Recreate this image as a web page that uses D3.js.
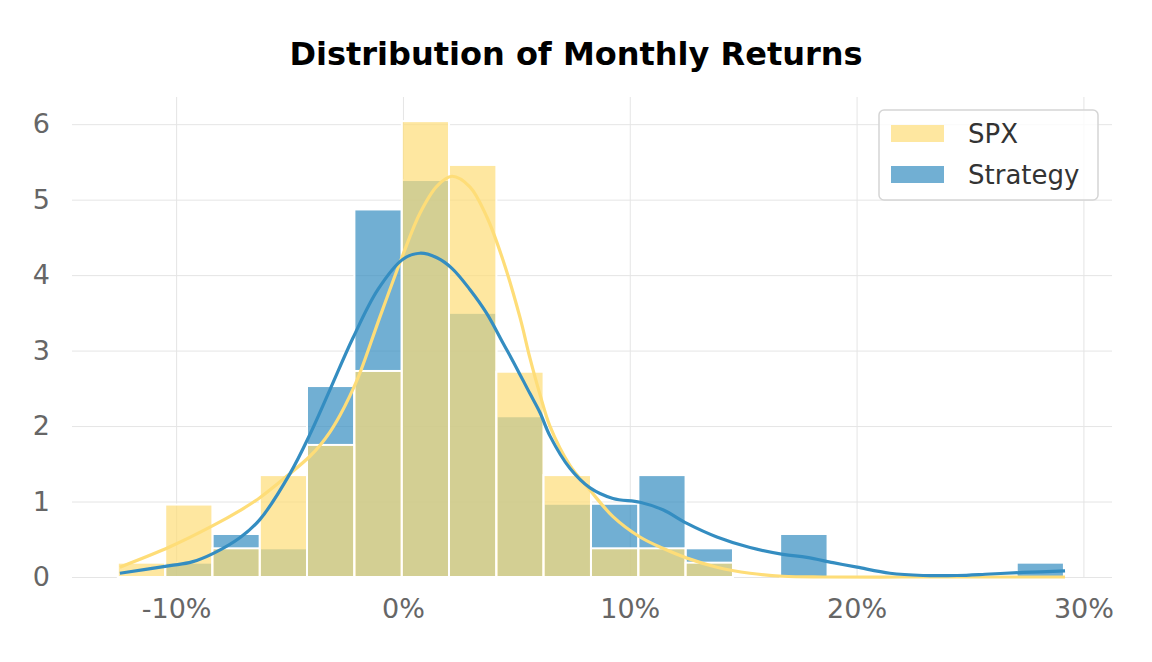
<!DOCTYPE html>
<html>
<head>
<meta charset="utf-8">
<script src="https://cdn.jsdelivr.net/npm/d3@7"></script>
<style>
  body { margin: 0; background: #fff; }
  svg { font-family: "DejaVu Sans", sans-serif; }
</style>
</head>
<body>
<div id="chart"></div>
<script>
// histogram bins (monthly return, %)
const binEdges = [-12.57, -10.48, -8.40, -6.31, -4.23, -2.14, -0.05, 2.03, 4.12, 6.20, 8.29,
  10.38, 12.46, 14.55, 16.63, 18.72, 20.80, 22.89, 24.97, 27.06, 29.14]
const spxDensity = [0.19, 0.96, 0.38, 1.35, 1.75, 2.73, 6.04, 5.46, 2.72, 1.35, 0.38, 0.38, 0.19, 0, 0, 0, 0, 0, 0, 0]
const stratDensity = [0, 0.19, 0.57, 0.38, 2.53, 4.87, 5.26, 3.50, 2.13, 0.97, 0.97, 1.35, 0.38, 0, 0.57, 0, 0, 0, 0, 0.19]

// kde curves
const spxKdeX = [-12.48, -10.27, -8.38, -7.19, -6.31, -4.98, -4.10, -3.67, -3.22, -2.78, -2.34, -1.90,
  -1.01, 0, 0.75, 1.50, 2.16, 2.95, 3.70, 4.41, 5.16, 5.60, 6.04, 6.48, 7.36, 8.25, 9.26, 10.45,
  11.46, 12.52, 13.84, 15.30, 16.75, 18.5, 22, 26, 29.19]
const spxKdeY = [0.13, 0.40, 0.68, 0.88, 1.05, 1.37, 1.60, 1.74, 1.92, 2.14, 2.40, 2.70,
  3.45, 4.27, 4.82, 5.18, 5.31, 5.17, 4.77, 4.20, 3.44, 2.90, 2.42, 2.00, 1.48, 1.15, 0.80, 0.53,
  0.38, 0.25, 0.13, 0.05, 0.01, 0, 0, 0, 0]
const stratKdeX = [-12.48, -10.27, -9.30, -8.38, -7.19, -6.31, -4.98, -4.10, -3.22, -2.20, -1.10, 0, 0.75,
  1.50, 2.16, 2.95, 3.70, 4.41, 4.85, 5.60, 6.04, 6.48, 7.36, 8.25, 9.26, 10.45, 11.46, 12.52,
  13.84, 15.30, 16.75, 17.81, 18.96, 20.02, 21.47, 22.93, 24.43, 25.88, 27.34, 29.19]
const stratKdeY = [0.05, 0.15, 0.20, 0.31, 0.52, 0.76, 1.37, 1.89, 2.48, 3.17, 3.81, 4.21, 4.29,
  4.23, 4.09, 3.81, 3.49, 3.10, 2.86, 2.43, 2.18, 1.87, 1.44, 1.18, 1.04, 0.99, 0.89, 0.71,
  0.53, 0.39, 0.30, 0.26, 0.19, 0.13, 0.05, 0.02, 0.02, 0.04, 0.06, 0.08]

const xTicks = [-10, 0, 10, 20, 30]
const yTicks = [0, 1, 2, 3, 4, 5, 6]
const series = ["SPX", "Strategy"]
const colors = { SPX: "#fedd78", Strategy: "#348dc1" }

const W = 1152, H = 662
const svg = d3.select("#chart").append("svg")
  .attr("width", W)
  .attr("height", H)

const x = d3.scaleLinear().domain([-14.59, 31.26]).range([72, 1112])
const y = d3.scaleLinear().domain([0, 6.36]).range([577, 97])

// grid
svg.append("g")
  .attr("transform", `translate(0, ${y(0)})`)
  .call(d3.axisBottom(x).tickValues(xTicks).tickSize(-(y(0) - y(6.36))).tickFormat(d => d + "%").tickPadding(22))
  .call(g => g.select(".domain").remove())
  .call(g => g.selectAll("line").attr("stroke", "#e5e5e5").attr("stroke-width", 1))
  .call(g => g.selectAll("text").attr("fill", "#666").attr("font-size", "27px").attr("font-family", "DejaVu Sans"))

svg.append("g")
  .attr("transform", `translate(${x.range()[0]}, 0)`)
  .call(d3.axisLeft(y).tickValues(yTicks).tickSize(-(x.range()[1] - x.range()[0])).tickFormat(d => d).tickPadding(22))
  .call(g => g.select(".domain").remove())
  .call(g => g.selectAll("line").attr("stroke", "#e5e5e5").attr("stroke-width", 1))
  .call(g => g.selectAll("text").attr("fill", "#666").attr("font-size", "27px").attr("font-family", "DejaVu Sans"))

function bars(values, name) {
  const data = values.map((v, i) => ({ x0: binEdges[i], x1: binEdges[i + 1], v })).filter(d => d.v > 0)
  svg.append("g").selectAll("rect")
    .data(data)
    .enter().append("rect")
    .attr("x", d => x(d.x0))
    .attr("width", d => x(d.x1) - x(d.x0))
    .attr("y", d => y(d.v))
    .attr("height", d => y(0) - y(d.v))
    .attr("fill", colors[name])
    .attr("fill-opacity", 0.7)
    .attr("stroke", "#fff")
    .attr("stroke-width", 2)
}
bars(stratDensity, "Strategy")
bars(spxDensity, "SPX")

const line = d3.line()
  .x(d => x(d[0]))
  .y(d => y(d[1]))
  .curve(d3.curveCatmullRom.alpha(0.5))

svg.append("path")
  .datum(spxKdeX.map((v, i) => [v, spxKdeY[i]]))
  .attr("d", line)
  .attr("fill", "none")
  .attr("stroke", colors.SPX)
  .attr("stroke-width", 3.2)

svg.append("path")
  .datum(stratKdeX.map((v, i) => [v, stratKdeY[i]]))
  .attr("d", line)
  .attr("fill", "none")
  .attr("stroke", colors.Strategy)
  .attr("stroke-width", 3.2)

// title
svg.append("text")
  .attr("x", 576)
  .attr("y", 65)
  .attr("text-anchor", "middle")
  .attr("font-size", "32px")
  .attr("font-weight", "bold")
  .attr("fill", "#000")
  .text("Distribution of Monthly Returns")

// legend
const lg = svg.append("g").attr("transform", "translate(879, 110)")
lg.append("rect")
  .attr("width", 219)
  .attr("height", 90)
  .attr("rx", 5)
  .attr("fill", "#fff")
  .attr("fill-opacity", 0.8)
  .attr("stroke", "#d5d5d5")
  .attr("stroke-width", 1.5)

series.forEach((s, i) => {
  lg.append("rect")
    .attr("x", 12)
    .attr("y", 15 + i * 41)
    .attr("width", 53)
    .attr("height", 17)
    .attr("fill", colors[s])
    .attr("fill-opacity", 0.7)
  lg.append("text")
    .attr("x", 89)
    .attr("y", 24 + i * 41)
    .attr("dy", "0.35em")
    .attr("font-size", "26px")
    .attr("fill", "#333")
    .text(s)
})
</script>
</body>
</html>
